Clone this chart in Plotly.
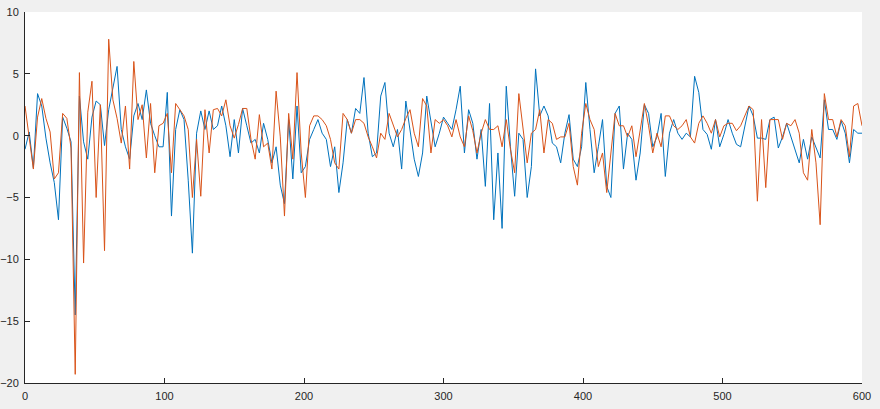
import plotly.graph_objects as go

x_values = list(range(0, 601, 3))

series_blue = [
    -1.1, 0.3, -2.6, 3.4, 2.4, -0.2, -2.2, -3.8, -6.8, 1.5,
    0.6, -0.5, -14.5, 3.2, -0.5, -1.9, 1.5, 2.8, 2.5, -0.8,
    2.1, 4.0, 5.6, 0.5, -0.9, -1.9, 1.6, 2.6, 1.3, 3.7,
    1.0, 0.0, -0.9, -0.9, 3.5, -6.5, 0.5, 2.1, 1.3, -3.6,
    -9.5, 0.2, 2.0, 0.5, 2.0, 0.5, 0.8, 2.4, 0.8, -1.7,
    1.3, -1.4, 2.2, 0.8, -0.6, -0.3, -1.4, 1.0, -0.3, -2.2,
    -0.9, -4.0, -5.5, 1.3, -3.5, 2.4, -3.0, -2.5, -0.3, 0.5,
    1.3, 0.2, -0.3, -2.5, -0.9, -4.6, -2.2, 1.3, 0.2, 2.2,
    1.8, 4.7, 0.2, -1.7, -1.4, 3.2, 4.3, 0.2, -0.9, 0.5,
    -2.7, 2.8, 0.5, -1.9, -3.3, -1.4, 3.2, 1.3, -0.9, 0.2,
    1.5, 1.0, 0.5, 2.1, 4.0, -1.4, 2.1, 1.0, -1.9, 0.5,
    -4.1, 2.6, -6.8, -1.4, -7.5, 4.0, -0.9, -4.9, 0.2, -0.3,
    -5.0, -2.5, 5.4, 1.6, 2.4, 1.6, -0.6, -0.9, -2.2, 0.2,
    1.7, -1.9, -2.5, -0.9, 4.3, 0.5, -3.0, -0.9, 1.3, -4.1,
    -5.0, 1.8, 2.4, -2.7, 0.2, -0.3, -3.6, -1.4, 2.5, 1.8,
    -0.9, -0.1, 1.8, -3.3, 0.2, 1.3, 0.2, -0.3, 0.2, -0.1,
    4.8, 3.5, 0.5, 0.1, -1.1, 1.3, -0.9, 0.1, 1.3, 0.2,
    -0.7, -0.9, 0.8, 2.4, 1.6, -0.2, -0.2, -0.3, 1.3, 1.5,
    -1.0, -0.1, 1.0, -0.1, -1.1, -2.2, -0.3, -1.9, -0.1, -0.9,
    -1.8, 2.9, 0.5, 0.5, -0.3, 1.2, 0.2, -2.2, 0.5, 0.2,
    0.2,
]

series_orange = [
    2.4, -0.3, -2.7, 1.5, 3.0, 1.4, 0.3, -3.5, -3.0, 1.8,
    1.4, -1.0, -19.3, 5.1, -10.3, 1.9, 4.4, -5.0, 2.5, -9.3,
    7.8, 2.9, 1.4, -0.6, 2.4, -2.7, 6.0, 1.3, 2.5, -1.8,
    2.6, -3.0, 0.8, 1.0, 1.8, -3.0, 2.6, 2.1, 1.6, 0.5,
    -5.0, -0.3, -4.9, 2.1, -1.4, 2.1, 2.2, 1.6, 2.9, 0.8,
    -0.2, 0.9, 2.2, 2.2, -0.3, -1.9, 1.7, -0.9, -0.6, -2.7,
    3.6, -0.1, -6.5, 1.8, -1.9, 5.1, -1.4, -5.0, 0.8, 1.6,
    1.6, 1.3, 0.8, -0.3, -2.2, -2.7, 1.8, 1.3, 0.2, 1.3,
    1.3, 1.0, -0.1, -0.9, -1.8, 0.2, -0.3, 1.8, 0.8, -0.1,
    0.5, 1.4, 2.1, 0.2, -0.9, 3.0, 2.4, -1.4, 1.3, 1.0,
    1.3, 0.8, -0.1, 1.3, -0.1, -0.9, 1.6, 0.4, -1.4, 0.2,
    1.3, 0.5, 0.5, 0.8, -0.9, 1.3, -1.1, -3.0, 3.4, 0.8,
    -2.2, 0.2, 0.5, 2.1, -1.4, 1.3, 1.0, -0.3, -0.1, -0.1,
    1.0, -2.5, -4.0, 0.2, 2.6, 1.3, 0.5, -2.5, -1.4, -4.6,
    -1.4, 1.8, 0.8, 0.8, -0.1, 0.8, -1.7, 0.5, 2.6, 0.8,
    -1.4, 0.2, -0.9, 1.6, 1.6, 0.8, 0.5, 0.8, 1.3, -0.1,
    -0.6, 1.0, 1.6, 1.0, 0.2, 1.3, -0.1, 0.8, 1.0, 1.0,
    0.4, 0.8, 1.6, 2.4, 2.1, -5.3, 1.3, -4.2, 1.3, 1.3,
    1.3, -0.3, 1.0, 0.8, 1.3, 0.2, -3.0, -3.6, 0.5, -2.2,
    -7.2, 3.4, 1.3, 1.3, -0.1, 1.3, 0.8, -1.7, 2.4, 2.6,
    0.8,
]

x_ticks = [0, 100, 200, 300, 400, 500, 600]
y_ticks = [-20, -15, -10, -5, 0, 5, 10]

fig = go.Figure()
fig.add_trace(go.Scatter(x=x_values, y=series_blue, mode="lines",
                         line=dict(color="#0072BD", width=1), showlegend=False))
fig.add_trace(go.Scatter(x=x_values, y=series_orange, mode="lines",
                         line=dict(color="#D95319", width=1), showlegend=False))

axis_common = dict(
    showgrid=False, zeroline=False, showline=True, linecolor="#262626",
    linewidth=1, ticks="inside", ticklen=5, tickcolor="#262626",
    automargin=False, ticklabelstandoff=3,
    tickfont=dict(family="Liberation Sans, Arial", size=11, color="#262626"),
)

fig.update_layout(
    width=880, height=409,
    margin=dict(l=25, r=18, t=12, b=26, autoexpand=False),
    paper_bgcolor="#f0f0f0", plot_bgcolor="#ffffff",
    xaxis=dict(range=[0, 600], tickvals=x_ticks, **axis_common),
    yaxis=dict(range=[-20, 10], tickvals=y_ticks, **axis_common),
)

fig.write_html(
    "out.html",
    config={"displayModeBar": False},
    post_script="document.body.style.margin='0';document.body.style.background='#f0f0f0';",
)
